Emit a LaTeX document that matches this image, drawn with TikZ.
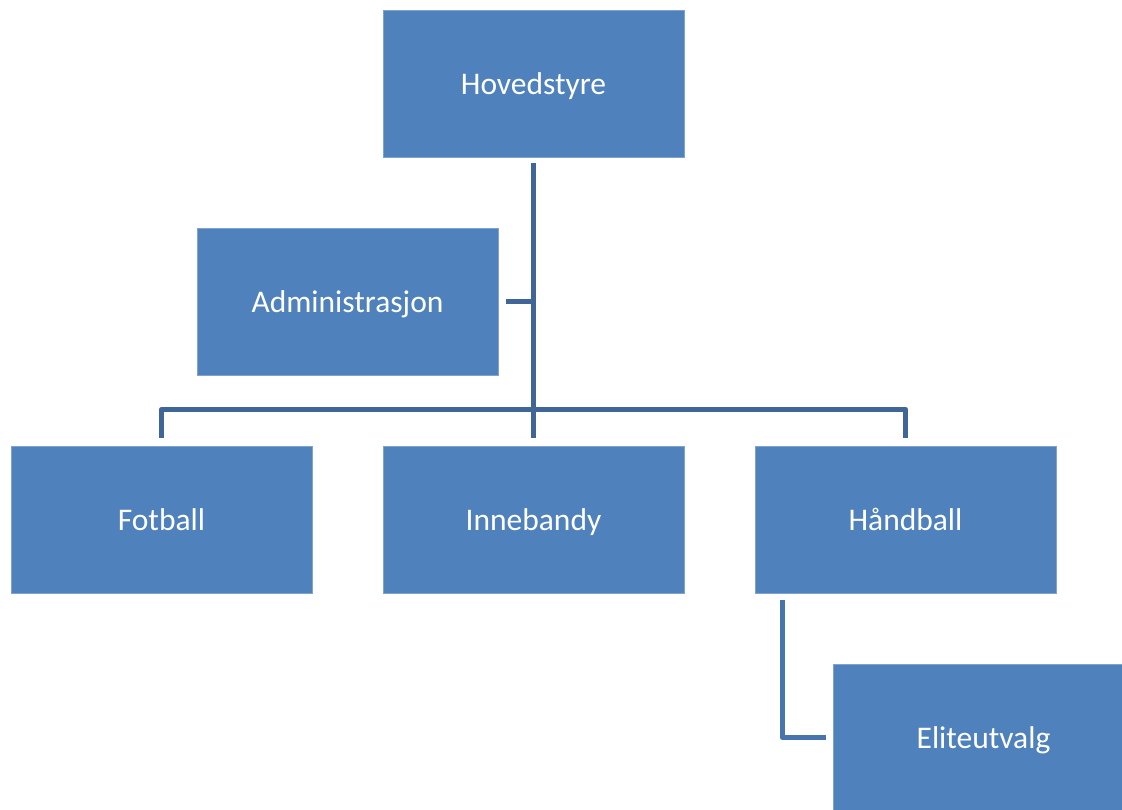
\documentclass[tikz,border=0pt]{standalone}
\usepackage{fontspec}
\setmainfont{Carlito}
\usepackage{tikz}
\definecolor{boxblue}{HTML}{4F81BD}
\definecolor{boxedge}{HTML}{7FA2CF}
\definecolor{linkblue}{HTML}{3F6697}
\definecolor{linkblue2}{HTML}{4874AD}

\begin{document}
\begin{tikzpicture}[x=1pt,y=-1pt,
    unit/.style={draw=boxedge,line width=0.8pt,fill=boxblue,text=white,
      minimum width=301pt,minimum height=147pt,inner sep=0pt,
      text height=22pt,text depth=0pt,
      font=\fontsize{31.5}{38}\selectfont},
    link/.style={draw=linkblue,line width=5.5pt,line join=round},
    sublink/.style={draw=linkblue2,line width=5.5pt,line join=round}]
    \useasboundingbox (0,0) rectangle (1122,809);
    \clip (0,0) rectangle (1122,809);
    % boxes, by pixel centres of the reference
    \node[unit] (hoved) at (533.5,83.5) {Hovedstyre};
    \node[unit] (admin) at (347.5,301.5) {Administrasjon};
    \node[unit] (fot) at (161.5,519.5) {Fotball};
    \node[unit] (inne) at (533.5,519.5) {Innebandy};
    \node[unit] (hand) at (905.5,519.5) {Håndball};
    \node[unit] (elite) at (983.5,737.5) {Eliteutvalg};
    % connectors
    \draw[link,shorten <=6pt,shorten >=8pt] (hoved.south) -- (inne.north);
    \draw[link,shorten <=8pt] (admin.east) -- (admin.east -| hoved.south);
    \draw[link,shorten <=8pt,shorten >=8pt] (fot.north) -- ++(0,-36) -| (hand.north);
    \draw[sublink,shorten <=7pt,shorten >=7pt] ([xshift=28pt]hand.south west) |- (elite.west);
\end{tikzpicture}
\end{document}
